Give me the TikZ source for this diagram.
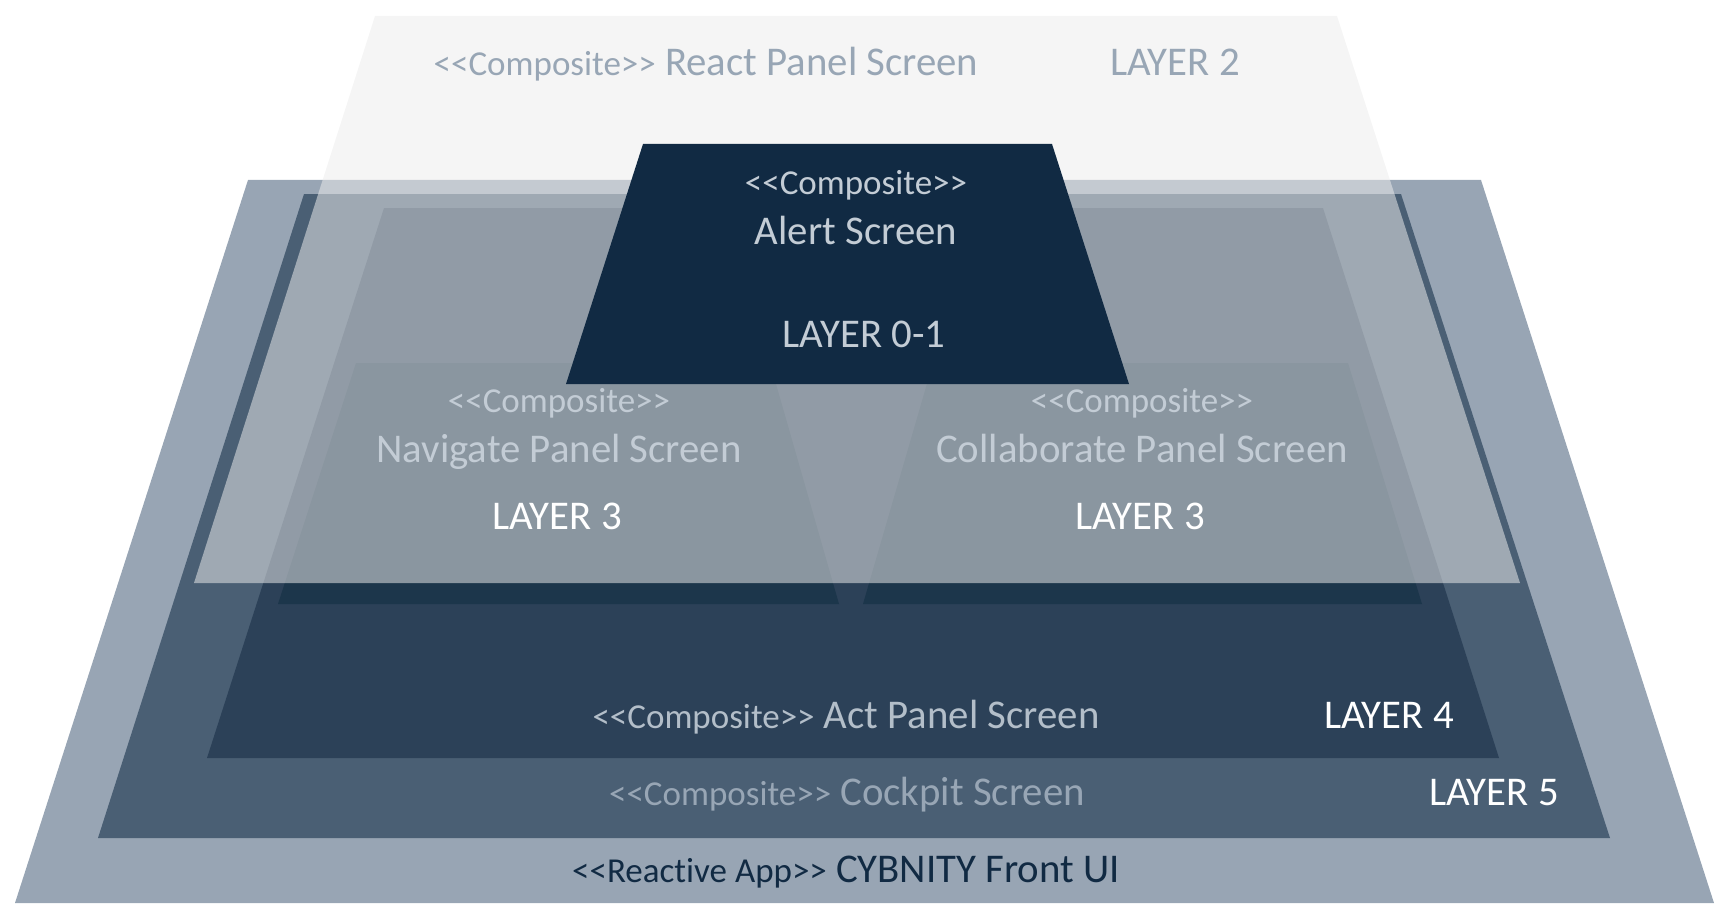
\documentclass[tikz,border=0pt]{standalone}
\usepackage{fontspec}
\setmainfont{Carlito}[Ligatures=NoCommon]
\usepackage{xcolor}
\usetikzlibrary{positioning}

\definecolor{appfill}{HTML}{98A5B4}
\definecolor{cockpitfill}{HTML}{4A5F74}
\definecolor{actfill}{HTML}{2C4158}
\definecolor{panelfill}{HTML}{1C364B}
\definecolor{alertfill}{HTML}{112A43}
\definecolor{reactfill}{HTML}{ECECEC}
\definecolor{mutetext}{HTML}{98A6B5}
\definecolor{softtext}{HTML}{C3CCD5}
\definecolor{acttext}{HTML}{B3BEC9}

\newcommand{\stereo}[1]{{\fontsize{17.5}{20}\selectfont <{}<#1>{}>}}

\begin{document}
\begin{tikzpicture}[
    x=0.5pt, y=-0.5pt,
    layer/.style={fill=#1},
    txt/.style={font=\fontsize{20.4}{24}\selectfont, inner sep=0pt, anchor=base, color=#1},
    tag/.style={txt=white}
]
\useasboundingbox (0,0) rectangle (1730,920);

%% Reactive App (outer)
\fill[layer=appfill] (248,180) -- (1481,180) -- (1714,903) -- (15,903) -- cycle;

%% Cockpit screen
\fill[layer=cockpitfill] (304,194) -- (1401,194) -- (1610,838) -- (98,838) -- cycle;

%% Act panel
\fill[layer=actfill] (384,208) -- (1323,208) -- (1499,758) -- (207,758) -- cycle;

%% Navigate / Collaborate panels
\fill[layer=panelfill] (356,363) -- (770,363) -- (839,604) -- (278,604) -- cycle;
\fill[layer=panelfill] (933,363) -- (1348,363) -- (1422,604) -- (863,604) -- cycle;

%% React panel (translucent)
\fill[layer=reactfill, fill opacity=0.53] (375,16) -- (1337,16) -- (1520,583) -- (194,583) -- cycle;

%% Alert screen
\fill[layer=alertfill] (643,144) -- (1052,144) -- (1129,384) -- (566,384) -- cycle;

%% Texts
\node[txt=mutetext] (react) at (706,76) {\stereo{Composite} React Panel Screen};
\node[txt=mutetext] (react_tag) at (1175,76) {LAYER 2};

\node[txt=softtext] (alert_st) at (856,194) {\stereo{Composite}};
\node[txt=softtext] (alert) at (856,244) {Alert Screen};
\node[txt=softtext] (alert_tag) at (864,347) {LAYER 0-1};

\node[txt=softtext] (nav_st) at (559,412) {\stereo{Composite}};
\node[txt=softtext] (nav) at (559,462) {Navigate Panel Screen};
\node[tag] (nav_tag) at (557,529) {LAYER 3};

\node[txt=softtext] (collab_st) at (1142,412) {\stereo{Composite}};
\node[txt=softtext] (collab) at (1142,462) {Collaborate Panel Screen};
\node[tag] (collab_tag) at (1140,529) {LAYER 3};

\node[txt=acttext] (act) at (846,728) {\stereo{Composite} Act Panel Screen};
\node[tag] (act_tag) at (1389,728) {LAYER 4};

\node[txt=mutetext] (cockpit) at (847,805) {\stereo{Composite} Cockpit Screen};
\node[tag] (cockpit_tag) at (1494,805) {LAYER 5};

\node[txt=alertfill] (app) at (846,882) {\stereo{Reactive App} CYBNITY Front UI};

\end{tikzpicture}
\end{document}
